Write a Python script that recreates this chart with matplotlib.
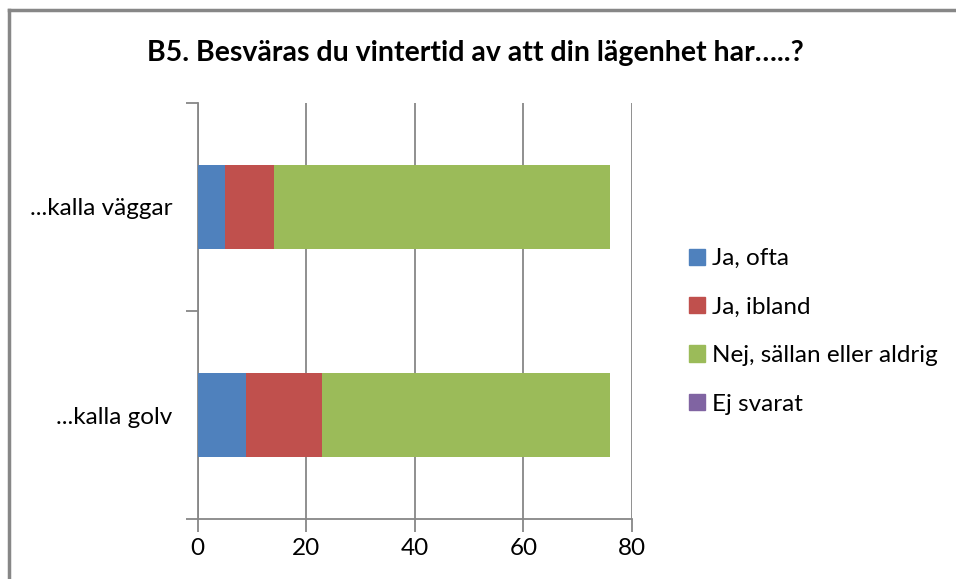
import numpy as np
import matplotlib
matplotlib.use('Agg')
import matplotlib.pyplot as plt
from matplotlib.patches import Rectangle
from matplotlib.lines import Line2D

plt.rcParams['font.family'] = ['Lato', 'DejaVu Sans']

# data
categories = ['...kalla golv', '...kalla väggar']
series = ['Ja, ofta', 'Ja, ibland', 'Nej, sällan eller aldrig', 'Ej svarat']
ja_ofta = [9, 5]
ja_ibland = [14, 9]
nej = [53, 62]
ej_svarat = [0, 0]
colors = ['#4f81bd', '#c0504d', '#9bbb59', '#8064a2']
xticks = [0, 20, 40, 60, 80]

fig = plt.figure(figsize=(9.56, 5.79), dpi=100)
ax = fig.add_axes([197.5 / 956, 1 - 519 / 579, (632 - 197.5) / 956, (519 - 103) / 579])

y = np.arange(len(categories))
left = np.zeros(len(categories))
for name, vals, c in zip(series, [ja_ofta, ja_ibland, nej, ej_svarat], colors):
    ax.barh(y, vals, left=left, height=0.4, color=c, label=name, zorder=3)
    left += np.array(vals)

ax.set_xlim(0, 80)
ax.set_ylim(-0.5, 1.5)
ax.set_xticks(xticks)
ax.set_yticks(y)
ax.set_yticklabels(categories)
ax.set_yticks([-0.5, 0.5, 1.5], minor=True)
ax.tick_params(axis='y', which='major', length=0, pad=18, labelsize=17.5)
ax.tick_params(axis='y', which='minor', length=9, color='#878787', width=1.3)
ax.tick_params(axis='x', length=9, color='#878787', width=1.3, labelsize=17.5, pad=5)
ax.grid(axis='x', color='#878787', lw=1.3, zorder=0)
for s in ['top', 'right']:
    ax.spines[s].set_visible(False)
for s in ['left', 'bottom']:
    ax.spines[s].set_color('#878787')
    ax.spines[s].set_linewidth(1.3)

fig.text(0.497, 1 - 53 / 579, 'B5. Besväras du vintertid av att din lägenhet har…..?',
         ha='center', va='center', fontsize=20.5, fontweight='bold')

handles = [Rectangle((0, 0), 1, 1, color=c) for c in colors]
fig.legend(handles, series, loc='upper left', bbox_to_anchor=(677 / 956, 1 - 236 / 579),
           frameon=False, fontsize=17.5, handlelength=0.65, handleheight=0.65,
           handletextpad=0.3, labelspacing=1.13, borderpad=0)

# outer frame (only left and top edges fall inside the picture)
fig.add_artist(Line2D([8.5 / 956, 8.5 / 956], [0, 1 - 10 / 579], transform=fig.transFigure,
                      color='#878787', lw=2.5, solid_capstyle='projecting'))
fig.add_artist(Line2D([8.5 / 956, 1], [1 - 10 / 579, 1 - 10 / 579], transform=fig.transFigure,
                      color='#878787', lw=2.5, solid_capstyle='projecting'))

fig.savefig('out.png', dpi=100)
